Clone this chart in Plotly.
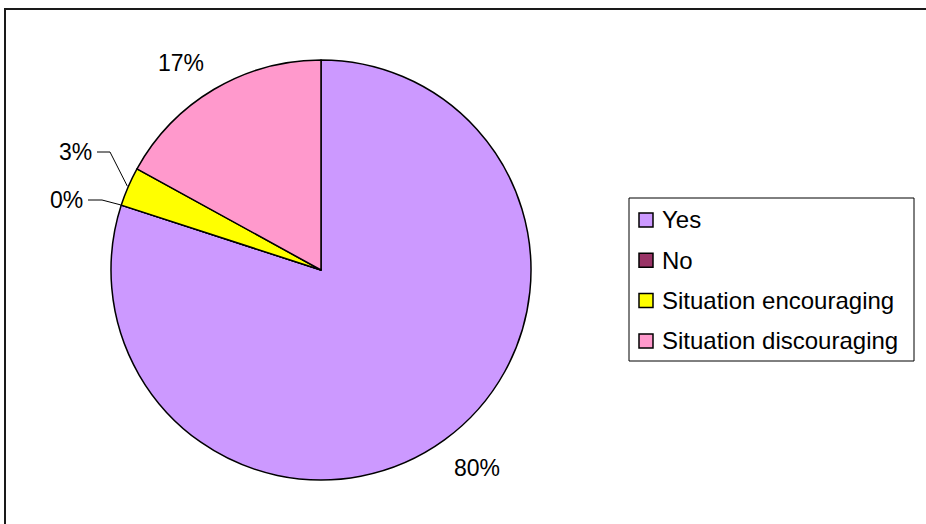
import math
import plotly.graph_objects as go

# Survey answers
labels = ["Yes", "No", "Situation encouraging", "Situation discouraging"]
values = [80, 0, 3, 17]
colors = ["#CC99FF", "#993366", "#FFFF00", "#FF99CC"]

W, H = 926, 524
CX, CY, R = 321, 270, 210
FONT = "Liberation Sans, Arial, sans-serif"
FS_LABEL = 23
FS_LEGEND = 24


def px(x):
    return x / W


def py(y):
    return 1 - y / H


fig = go.Figure()
fig.add_trace(go.Pie(
    labels=labels,
    values=values,
    sort=False,
    direction="clockwise",
    rotation=0,
    marker=dict(colors=colors, line=dict(color="#000000", width=1.5)),
    textinfo="none",
    hoverinfo="label+percent",
    showlegend=False,
    domain=dict(x=[px(CX - R), px(CX + R)], y=[py(CY + R), py(CY - R)]),
))

total = sum(values)


def edge_point(frac, rad=R):
    """Point on the pie edge at a cumulative fraction, clockwise from 12 o'clock."""
    a = 2 * math.pi * frac
    return CX + rad * math.sin(a), CY - rad * math.cos(a)


# slice mid fractions
cum = 0
mids = []
for v in values:
    mids.append((cum + v / 2) / total)
    cum += v

shapes = []
annotations = []

# label placement: big slices sit outside the rim, small ones get leader lines
label_pos = {0: (477, 468), 3: (181, 63), 2: (75, 152), 1: (66, 200)}
leaders = {2: [(97, 152), (110, 152)], 1: [(88, 200), (102, 200)]}

for i, v in enumerate(values):
    x, y = label_pos[i]
    annotations.append(dict(
        x=px(x), y=py(y), xref="paper", yref="paper",
        text=f"{round(100 * v / total)}%", showarrow=False,
        xanchor="center", yanchor="middle",
        font=dict(family=FONT, size=FS_LABEL, color="#000000"),
    ))
    if i in leaders:
        ex, ey = edge_point(mids[i], R + 1)
        pts = leaders[i] + [(ex, ey)]
        path = "M " + " L ".join(f"{px(a)},{py(b)}" for a, b in pts)
        shapes.append(dict(type="path", path=path, xref="paper", yref="paper",
                           line=dict(color="#000000", width=1)))

# legend block
LX0, LX1, LY0, LY1 = 629, 914, 198, 361
shapes.append(dict(type="rect", xref="paper", yref="paper",
                   x0=px(LX0), x1=px(LX1), y0=py(LY1), y1=py(LY0),
                   line=dict(color="#000000", width=1), fillcolor="#FFFFFF"))
row0, step, sq = 220, 40.3, 14
for i, (lab, col) in enumerate(zip(labels, colors)):
    yc = row0 + i * step
    shapes.append(dict(type="rect", xref="paper", yref="paper",
                       x0=px(639), x1=px(639 + sq), y0=py(yc + sq / 2), y1=py(yc - sq / 2),
                       line=dict(color="#000000", width=1.5), fillcolor=col))
    annotations.append(dict(
        x=px(660), y=py(yc), xref="paper", yref="paper", text=lab,
        showarrow=False, xanchor="left", yanchor="middle",
        font=dict(family=FONT, size=FS_LEGEND, color="#000000"),
    ))

# chart area frame
shapes.append(dict(type="rect", xref="paper", yref="paper",
                   x0=px(5), x1=1.05, y0=-0.05, y1=py(9),
                   line=dict(color="#1a1a1a", width=2), layer="below"))

fig.update_layout(
    width=W, height=H,
    margin=dict(l=0, r=0, t=0, b=0),
    paper_bgcolor="#FFFFFF", plot_bgcolor="#FFFFFF",
    shapes=shapes, annotations=annotations,
    font=dict(family=FONT, size=FS_LABEL, color="#000000"),
)

fig.write_html("out.html")
